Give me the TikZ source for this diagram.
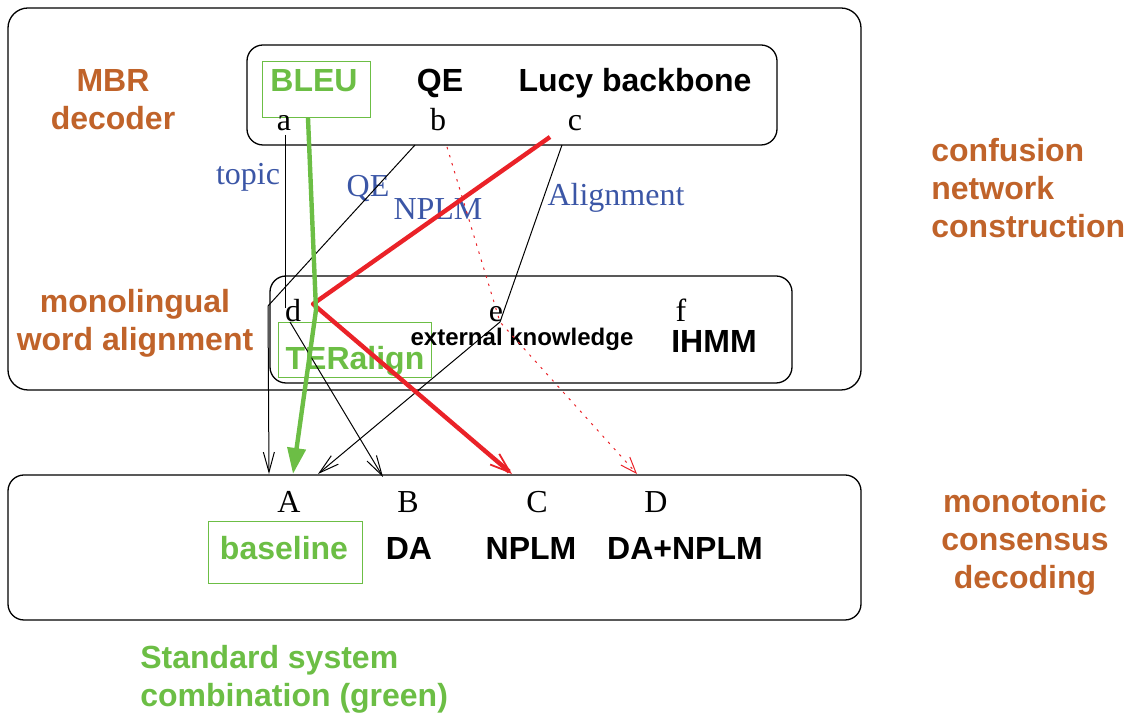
\documentclass[tikz,border=0pt]{standalone}
\usepackage{fontspec}
\setmainfont{Liberation Serif}
\setsansfont{Liberation Sans}
\usetikzlibrary{arrows.meta}
\definecolor{rust}{RGB}{192,99,42}
\definecolor{leaf}{RGB}{108,190,69}
\definecolor{ink}{RGB}{59,86,166}
\definecolor{scarlet}{RGB}{234,34,40}

\begin{document}
\begin{tikzpicture}[x=0.5pt,y=-0.5pt,
  stage/.style={text=rust,inner sep=0pt,font=\sffamily\bfseries\fontsize{16}{19}\selectfont},
  feat/.style={inner sep=0pt,anchor=base,font=\sffamily\bfseries\fontsize{16}{19}\selectfont},
  idx/.style={inner sep=0pt,anchor=base,font=\fontsize{16}{19}\selectfont},
  elab/.style={text=ink,inner sep=0pt,anchor=base,font=\fontsize{16}{19}\selectfont},
  panel/.style={draw,line width=0.65pt,rounded corners=8pt},
  gbox/.style={draw=leaf,line width=0.5pt},
  wire/.style={line width=0.5pt,-{Straight Barb[length=10pt,width=5.5pt]}},
  redpath/.style={scarlet,line width=2.2pt,line join=round,-{Straight Barb[length=10pt,width=7pt,line width=0.9pt]}},
  greenpath/.style={leaf,line width=2.2pt,line join=round,-{Triangle[length=13pt,width=9pt]}},
  dotpath/.style={scarlet,line width=0.5pt,dash pattern=on 1.2pt off 3pt,-{Straight Barb[length=8pt,width=6pt,line width=0.5pt]}}]
\useasboundingbox (0,0) rectangle (1132,715);

\draw[panel,rounded corners=10pt] (8,8) rectangle (861,390);
\draw[panel] (247,45) rectangle (777,145);
\draw[panel] (270,276) rectangle (792,383);
\draw[panel] (8,475) rectangle (861,620);

\draw[gbox] (262,62) rectangle (370,118);
\draw[gbox] (278,323) rectangle (431,378);
\draw[gbox] (208,522) rectangle (362,584);

\node[stage,align=center] (mbr) at (113,100) {MBR\\decoder};
\node[stage,align=center] (mono) at (135,323) {monolingual\\word alignment};
\node[stage,align=left,anchor=west] (cn) at (931,188) {confusion\\network\\construction};
\node[stage,align=center] (mcd) at (1025,542) {monotonic\\consensus\\decoding};
\node[stage,align=left,anchor=west,text=leaf] (std) at (140,679) {Standard system\\combination (green)};

\node[feat,text=leaf] (bleu) at (314,92) {BLEU};
\node[feat] (qe) at (440,92) {QE};
\node[feat] (lucy) at (635,92) {Lucy backbone};
\node[idx] (a) at (284,131) {a};
\node[idx] (b) at (438,131) {b};
\node[idx] (c) at (575,131) {c};

\node[idx] (d) at (293,322) {d};
\node[idx] (e) at (496,322) {e};
\node[idx] (f) at (681,322) {f};
\node[feat,font=\sffamily\bfseries\fontsize{12}{14}\selectfont] (extk) at (522,346) {external knowledge};
\node[feat] (ihmm) at (714,353) {IHMM};
\node[feat,text=leaf] (teralign) at (355,370) {TERalign};

\node[idx] (A) at (289,513) {A};
\node[idx] (B) at (408,513) {B};
\node[idx] (C) at (537,513) {C};
\node[idx] (D) at (656,513) {D};
\node[feat,text=leaf] (baseline) at (284,560) {baseline};
\node[feat] (da) at (409,560) {DA};
\node[feat] (nplm) at (531,560) {NPLM};
\node[feat] (danplm) at (685,560) {DA+NPLM};

\node[elab] (topic) at (248,185) {topic};
\node[elab] (qelab) at (368,197) {QE};
\node[elab] (nplmlab) at (438,220) {NPLM};
\node[elab] (alignlab) at (616,206) {Alignment};

\coordinate (aout) at (285,135);
\coordinate (dtop) at (285,308);
\coordinate (bout) at (415,145);
\coordinate (bbend) at (268,306);
\coordinate (cout) at (562,145);
\coordinate (cred) at (550,137);
\coordinate (eknot) at (500,322);
\coordinate (dknot) at (313,304);
\coordinate (dout) at (290,322);
\coordinate (gtop) at (308,118);
\coordinate (gbend) at (316,310);
\coordinate (dotout) at (447,147);
\coordinate (Ain1) at (269,474);
\coordinate (Ain2) at (293,474);
\coordinate (Ain3) at (318,474);
\coordinate (Bin) at (383,477);
\coordinate (Cin) at (512,474);
\coordinate (Din) at (637,474);

\draw[line width=0.5pt] (aout) -- (dtop);
\draw[wire] (bout) -- (bbend) -- (Ain1);
\draw[wire] (cout) -- (eknot) -- (Ain3);
\draw[wire] (dout) -- (Bin);
\draw[dotpath] (dotout) -- (eknot) -- (Din);
\draw[redpath] (cred) -- (dknot) -- (Cin);
\draw[greenpath] (gtop) -- (gbend) -- (Ain2);
\end{tikzpicture}
\end{document}
